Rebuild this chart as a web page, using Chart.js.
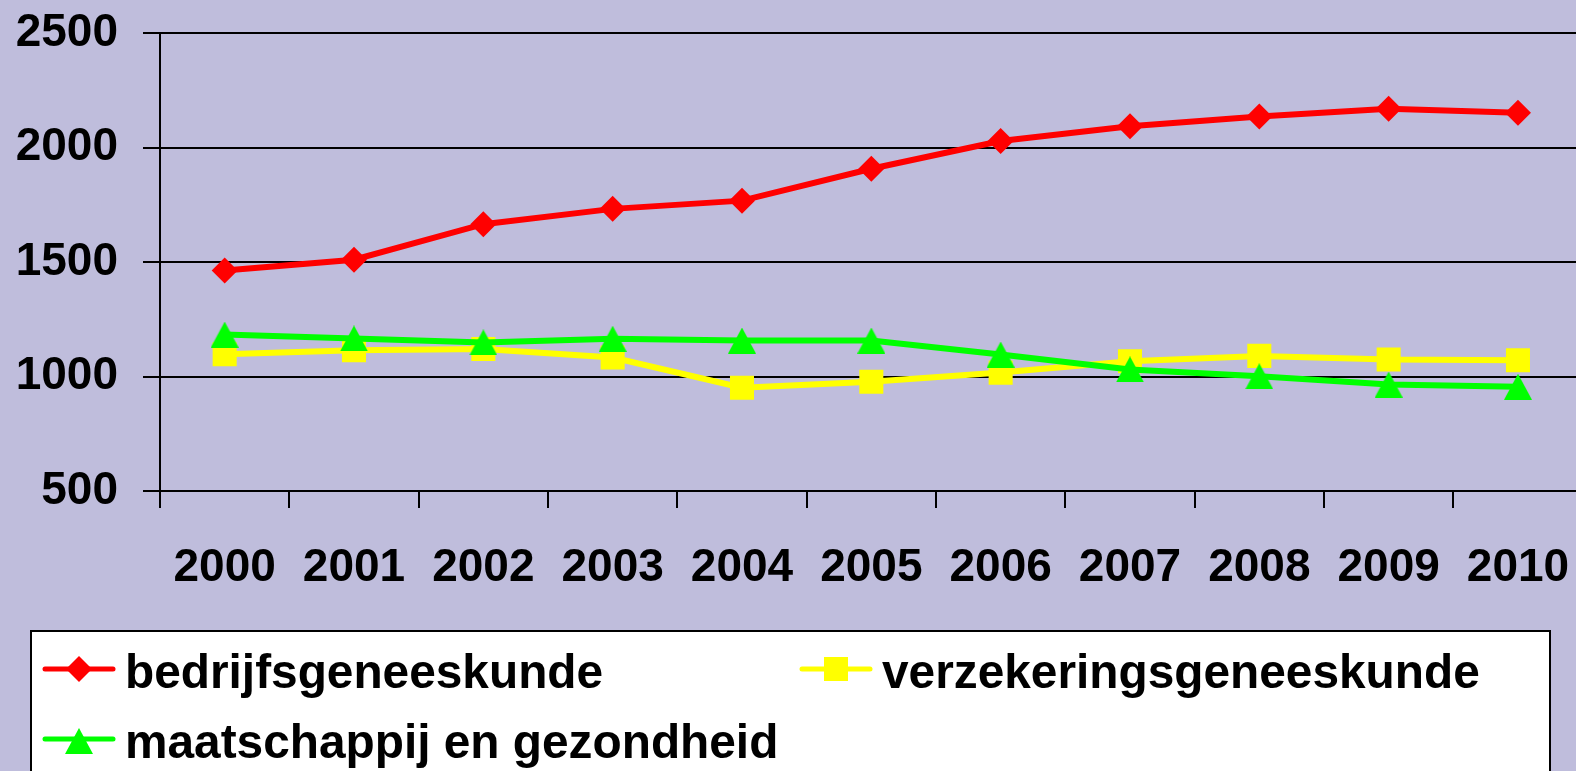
<!DOCTYPE html>
<html>
<head>
<meta charset="utf-8">
<script src="https://cdn.jsdelivr.net/npm/chart.js@4.4.1/dist/chart.umd.min.js"></script>
<style>
html, body { margin: 0; padding: 0; background: #BFBDDC; overflow: hidden; }
canvas { display: block; }
</style>
</head>
<body>
<canvas id="grafiek" width="1603" height="771"></canvas>
<script>
// data
const jaren = ['2000', '2001', '2002', '2003', '2004', '2005', '2006', '2007', '2008', '2009', '2010'];
const bedrijfsgeneeskunde = [1463, 1510, 1665, 1732, 1768, 1907, 2028, 2093, 2135, 2169, 2152];
const verzekeringsgeneeskunde = [1097, 1115, 1120, 1083, 951, 977, 1017, 1067, 1090, 1074, 1071];
const maatschappij = [1183, 1166, 1149, 1165, 1157, 1157, 1096, 1031, 1001, 965, 955];
const yTicks = [500, 1000, 1500, 2000, 2500];

const FONT = "'Liberation Sans', Arial, sans-serif";

// driehoek als eigen canvas, gecentreerd op het punt (zoals in Excel)
function maakDriehoek(kleur) {
    const c = document.createElement('canvas');
    c.width = 28; c.height = 26;
    const g = c.getContext('2d');
    g.fillStyle = kleur;
    g.beginPath();
    g.moveTo(14, 0);
    g.lineTo(28, 26);
    g.lineTo(0, 26);
    g.closePath();
    g.fill();
    return c;
}
const driehoek = maakDriehoek('#00FF00');

const legendaPlugin = {
    id: 'legenda',
    afterDraw(chart) {
        const ctx = chart.ctx;
        ctx.save();
        ctx.fillStyle = '#FFFFFF';
        ctx.fillRect(31, 631, 1519, 160);
        ctx.strokeStyle = '#000000';
        ctx.lineWidth = 2;
        ctx.strokeRect(31, 631, 1519, 160);

        const plekken = [[45, 669], [802, 669], [45, 739]];
        [0, 1, 2].forEach((i, n) => {
            const ds = chart.data.datasets[i];
            const [x, y] = plekken[n];
            ctx.strokeStyle = ds.borderColor;
            ctx.lineWidth = 5;
            ctx.lineCap = 'round';
            ctx.beginPath();
            ctx.moveTo(x, y);
            ctx.lineTo(x + 68, y);
            ctx.stroke();
            if (ds.pointStyle instanceof HTMLCanvasElement) {
                const im = ds.pointStyle;
                ctx.drawImage(im, x + 34 - im.width / 2, y + 2 - im.height / 2);
            } else {
                ctx.fillStyle = ds.pointBackgroundColor;
                Chart.helpers.drawPoint(ctx, {pointStyle: ds.pointStyle, radius: ds.pointRadius, rotation: 0, borderWidth: 0}, x + 34, y);
            }
            ctx.fillStyle = '#000000';
            ctx.font = 'bold 47.8px ' + FONT;
            ctx.textAlign = 'left';
            ctx.textBaseline = 'alphabetic';
            ctx.fillText(ds.label, x + 80, y + 19);
        });
        ctx.restore();
    }
};

const ctx = document.getElementById('grafiek');
const grafiek = new Chart(ctx, {
    type: 'line',
    data: {
        labels: jaren,
        datasets: [{
            label: 'bedrijfsgeneeskunde',
            data: bedrijfsgeneeskunde,
            borderColor: '#FF0000',
            backgroundColor: '#FF0000',
            pointBackgroundColor: '#FF0000',
            pointBorderWidth: 0,
            pointStyle: 'rectRot',
            pointRadius: 13,
            borderWidth: 6,
            order: 0
        }, {
            label: 'verzekeringsgeneeskunde',
            data: verzekeringsgeneeskunde,
            borderColor: '#FFFF00',
            backgroundColor: '#FFFF00',
            pointBackgroundColor: '#FFFF00',
            pointBorderWidth: 0,
            pointStyle: 'rect',
            pointRadius: 17,
            borderWidth: 6,
            order: 2
        }, {
            label: 'maatschappij en gezondheid',
            data: maatschappij,
            borderColor: '#00FF00',
            backgroundColor: '#00FF00',
            pointBackgroundColor: '#00FF00',
            pointStyle: driehoek,
            pointRadius: 13,
            borderWidth: 6,
            order: 1
        }]
    },
    options: {
        responsive: false,
        animation: false,
        layout: { padding: { top: 33, right: 0, left: 0, bottom: 0 } },
        plugins: {
            legend: { display: false },
            tooltip: { enabled: false }
        },
        scales: {
            x: {
                offset: true,
                grid: {
                    offset: true,
                    drawOnChartArea: false,
                    drawTicks: true,
                    tickLength: 17,
                    color: '#000000',
                    lineWidth: 2
                },
                border: { display: true, color: '#000000', width: 2 },
                ticks: {
                    color: '#000000',
                    font: { family: FONT, size: 46, weight: 'bold' },
                    padding: 33,
                    maxRotation: 0,
                    autoSkip: false
                },
                afterFit(s) { s.height = 280; }
            },
            y: {
                min: 500,
                max: 2500,
                afterBuildTicks(s) { s.ticks = yTicks.map(v => ({ value: v })); },
                grid: {
                    color: '#000000',
                    lineWidth: 2,
                    tickLength: 17
                },
                border: { display: true, color: '#000000', width: 2 },
                ticks: {
                    color: '#000000',
                    font: { family: FONT, size: 46, weight: 'bold', lineHeight: 0.3 },
                    padding: 25,
                    callback: v => String(v)
                },
                afterFit(s) { s.width = 160; }
            }
        }
    },
    plugins: [legendaPlugin]
});
</script>
</body>
</html>
